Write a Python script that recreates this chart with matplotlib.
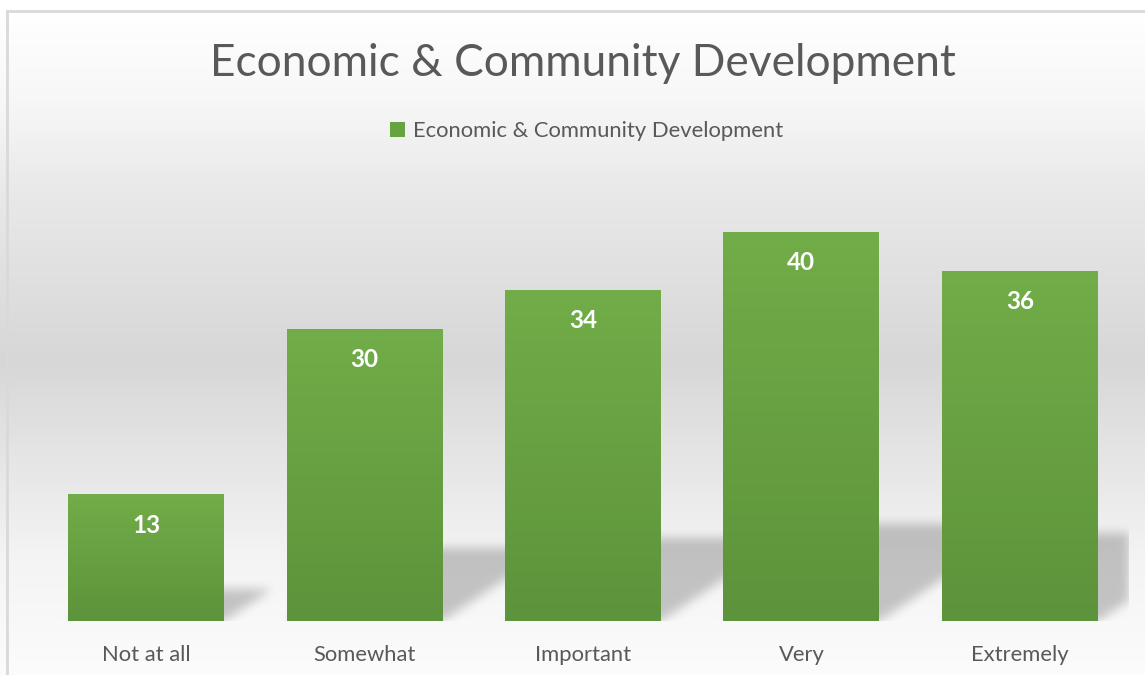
import numpy as np
import matplotlib
matplotlib.use('Agg')
import matplotlib.pyplot as plt
from matplotlib.colors import LinearSegmentedColormap

categories = ['Not at all', 'Somewhat', 'Important', 'Very', 'Extremely']
values = [13, 30, 34, 40, 36]
seriesName = 'Economic & Community Development'
chartTitle = 'Economic & Community Development'

plt.rcParams['font.family'] = ['Lato', 'DejaVu Sans']
textGrey = '#595959'

W, H = 1145, 675
fig = plt.figure(figsize=(W / 100, H / 100), dpi=100)

# background gradient (white -> grey -> white), like the excel style
bg = fig.add_axes([0, 0, 1, 1], zorder=-10)
rows = np.arange(H)
stopsY = [0, 10, 100, 190, 360, 560, 675]
stopsC = [255, 255, 247, 233, 215, 244, 252]
shade = np.interp(rows, stopsY, stopsC) / 255.0
bgImg = np.repeat(shade[:, None], 3, axis=1)[:, None, :] * np.ones((1, 8, 1))
bg.imshow(bgImg, aspect='auto', extent=(0, W, H, 0))
bg.set_xlim(0, W)
bg.set_ylim(H, 0)
bg.axis('off')
# chart border
bg.plot([6.5, 6.5], [H, 10.5], color='#d9d9d9', lw=2)
bg.plot([6.5, W], [10.5, 10.5], color='#d9d9d9', lw=2)

ax = fig.add_axes([37 / W, 54 / H, 1092 / W, 438 / H])
ax.set_facecolor('none')
x = np.arange(len(categories))
barWidth = 0.714
bars = ax.bar(x, values, width=barWidth, color='#68a342', label=seriesName, zorder=3)
ax.set_xlim(-0.5, len(categories) - 0.5)
ax.set_ylim(0, 45)
ax.set_autoscale_on(False)

# gradient fill on each bar
greenCmap = LinearSegmentedColormap.from_list('g', ['#5d933b', '#71ad48'])
grad = np.linspace(0, 1, 256)[:, None]
for rect in bars:
    bx, bw, bh = rect.get_x(), rect.get_width(), rect.get_height()
    im = ax.imshow(grad, cmap=greenCmap, origin='lower', aspect='auto',
                   extent=(bx, bx + bw, 0, bh), zorder=4)
    im.set_clip_path(rect)

# perspective shadow behind bars (skewed up-right and blurred)
axW, axH = 1092, 438
xx, yy = np.meshgrid(np.arange(axW) + 0.5, np.arange(axH) + 0.5)
mask = np.zeros((axH, axW))
toPix = ax.transData
x0pix, y0pix = toPix.transform((-0.5, 0))
for rect in bars:
    left = toPix.transform((rect.get_x(), 0))[0] - x0pix
    right = toPix.transform((rect.get_x() + rect.get_width(), 0))[0] - x0pix
    hPix = toPix.transform((0, rect.get_height()))[1] - y0pix
    shH = 0.25 * hPix
    k = 1.5
    inside = (yy <= shH) & (xx >= left + k * yy) & (xx <= right + k * yy)
    mask[inside] = 1.0

sigma = 5.0
kx = np.arange(-16, 17)
kern = np.exp(-kx ** 2 / (2 * sigma ** 2))
kern /= kern.sum()
mask = np.apply_along_axis(lambda r: np.convolve(r, kern, mode='same'), 1, mask)
mask = np.apply_along_axis(lambda c: np.convolve(c, kern, mode='same'), 0, mask)
shadow = np.zeros((axH, axW, 4))
shadow[..., 3] = 0.21 * mask
ax.imshow(shadow, origin='lower', aspect='auto',
          extent=(-0.5, len(categories) - 0.5, 0, 45), zorder=1)

# value labels inside the top of the bars
for rect, v in zip(bars, values):
    ax.annotate(str(v), (rect.get_x() + rect.get_width() / 2, rect.get_height()),
                xytext=(0, -22), textcoords='offset points', ha='center', va='center',
                color='white', fontsize=17.5, fontweight='bold', zorder=5)

ax.set_xticks(x, categories)
ax.tick_params(axis='x', length=0, pad=17, labelsize=15.8, labelcolor=textGrey)
ax.set_yticks([])
for s in ax.spines.values():
    s.set_visible(False)

fig.text(582.5 / W, 1 - 63 / H, chartTitle, ha='center', va='center',
         fontsize=31.9, color=textGrey)
fig.legend(handles=[bars.patches[0]], labels=[seriesName], loc='center',
           bbox_to_anchor=(587 / W, 1 - 131 / H), frameon=False, fontsize=15.8,
           handlelength=0.65, handleheight=0.65, handletextpad=0.4,
           labelcolor=textGrey)

fig.savefig('out.png', dpi=100)
